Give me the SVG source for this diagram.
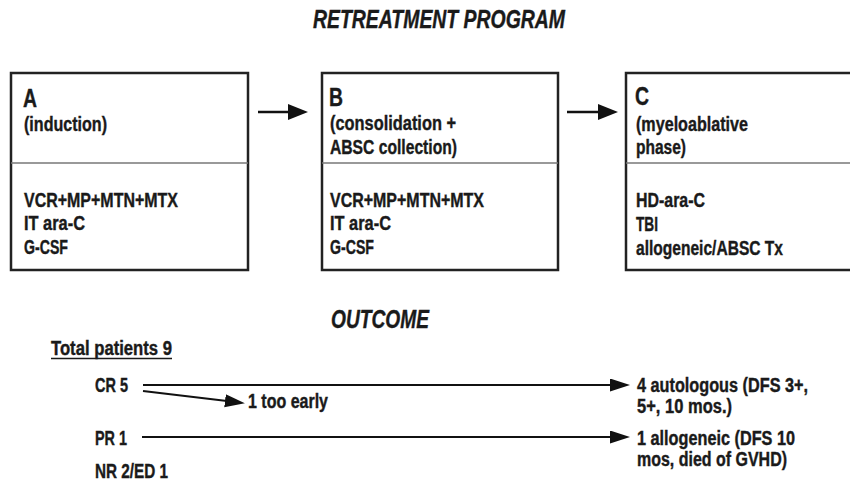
<svg xmlns="http://www.w3.org/2000/svg" width="850" height="482" viewBox="0 0 850 482">
<defs>
<style>
.t{font-family:"Liberation Sans","Arial",sans-serif;font-weight:bold;fill:#1a1a1a;stroke:#1a1a1a;stroke-width:0.4;font-size:20.5px}
.big{font-size:26.5px}
.o{font-size:19.5px}
.h{font-size:26px;font-style:italic}
.box{fill:none;stroke:#222;stroke-width:2.5}
.div{stroke:#777;stroke-width:1.5}
.conn{stroke:#111;stroke-width:2.5;fill:none}
.thin{stroke:#111;stroke-width:2;fill:none}
</style>
<marker id="ah" markerUnits="userSpaceOnUse" markerWidth="22" markerHeight="18" refX="2" refY="8" orient="auto">
<path d="M0,0 L20,8 L0,16 z" fill="#111"/>
</marker>
<marker id="ah2" markerUnits="userSpaceOnUse" markerWidth="22" markerHeight="16" refX="2" refY="6.5" orient="auto">
<path d="M0,0 L20,6.5 L0,13 z" fill="#111"/>
</marker>
</defs>
<rect width="850" height="482" fill="#fff"/>
<text class="t h" x="313" y="28" textLength="252" lengthAdjust="spacingAndGlyphs">RETREATMENT PROGRAM</text>
<g id="nodeA">
<rect class="box" x="11" y="73" width="237" height="197"/>
<line class="div" x1="11" y1="163" x2="248" y2="163"/>
<text class="t big" x="23" y="107" textLength="14" lengthAdjust="spacingAndGlyphs">A</text>
<text class="t" x="24" y="131" textLength="83" lengthAdjust="spacingAndGlyphs">(induction)</text>
<text class="t" x="24" y="207" textLength="154" lengthAdjust="spacingAndGlyphs">VCR+MP+MTN+MTX</text>
<text class="t" x="24" y="230" textLength="61" lengthAdjust="spacingAndGlyphs">IT ara-C</text>
<text class="t" x="24" y="254" textLength="44" lengthAdjust="spacingAndGlyphs">G-CSF</text>
</g>
<g id="nodeB">
<rect class="box" x="322" y="73" width="236" height="197"/>
<line class="div" x1="322" y1="163" x2="558" y2="163"/>
<text class="t big" x="329" y="106" textLength="14" lengthAdjust="spacingAndGlyphs">B</text>
<text class="t" x="330" y="130" textLength="126" lengthAdjust="spacingAndGlyphs">(consolidation +</text>
<text class="t" x="330" y="154" textLength="127" lengthAdjust="spacingAndGlyphs">ABSC collection)</text>
<text class="t" x="330" y="207" textLength="154" lengthAdjust="spacingAndGlyphs">VCR+MP+MTN+MTX</text>
<text class="t" x="330" y="230" textLength="61" lengthAdjust="spacingAndGlyphs">IT ara-C</text>
<text class="t" x="330" y="254" textLength="44" lengthAdjust="spacingAndGlyphs">G-CSF</text>
</g>
<g id="nodeC">
<rect class="box" x="626" y="73" width="232" height="197"/>
<line class="div" x1="626" y1="163" x2="858" y2="163"/>
<text class="t big" x="635" y="105" textLength="14" lengthAdjust="spacingAndGlyphs">C</text>
<text class="t" x="636" y="131" textLength="112" lengthAdjust="spacingAndGlyphs">(myeloablative</text>
<text class="t" x="636" y="154" textLength="50" lengthAdjust="spacingAndGlyphs">phase)</text>
<text class="t" x="636" y="207" textLength="69" lengthAdjust="spacingAndGlyphs">HD-ara-C</text>
<text class="t" x="636" y="231" textLength="22" lengthAdjust="spacingAndGlyphs">TBI</text>
<text class="t" x="636" y="255" textLength="147" lengthAdjust="spacingAndGlyphs">allogeneic/ABSC Tx</text>
</g>
<text class="t h" x="331" y="328" textLength="98" lengthAdjust="spacingAndGlyphs">OUTCOME</text>
<g id="outcome-labels">
<text class="t o" x="51" y="355" textLength="121" lengthAdjust="spacingAndGlyphs">Total patients 9</text>
<line x1="51" y1="358.5" x2="172" y2="358.5" stroke="#1a1a1a" stroke-width="1.5"/>
<text class="t o" x="95" y="392" textLength="33" lengthAdjust="spacingAndGlyphs">CR 5</text>
<text class="t o" x="95" y="445" textLength="32" lengthAdjust="spacingAndGlyphs">PR 1</text>
<text class="t o" x="95" y="478" textLength="73" lengthAdjust="spacingAndGlyphs">NR 2/ED 1</text>
<text class="t o" x="248" y="408" textLength="80" lengthAdjust="spacingAndGlyphs">1 too early</text>
<text class="t o" x="637" y="392" textLength="171" lengthAdjust="spacingAndGlyphs">4 autologous (DFS 3+,</text>
<text class="t o" x="637" y="413" textLength="95" lengthAdjust="spacingAndGlyphs">5+, 10 mos.)</text>
<text class="t o" x="637" y="445" textLength="158" lengthAdjust="spacingAndGlyphs">1 allogeneic (DFS 10</text>
<text class="t o" x="637" y="466" textLength="150" lengthAdjust="spacingAndGlyphs">mos, died of GVHD)</text>
</g>
<g id="connectors">
<line class="conn" x1="258" y1="112" x2="290" y2="112" marker-end="url(#ah)"/>
<line class="conn" x1="567" y1="112" x2="600" y2="112" marker-end="url(#ah)"/>
<line class="thin" x1="143" y1="385" x2="612" y2="385" marker-end="url(#ah2)"/>
<line class="thin" x1="143" y1="391" x2="227" y2="401" marker-end="url(#ah2)"/>
<line class="thin" x1="142" y1="437" x2="612" y2="437" marker-end="url(#ah2)"/>
</g>
</svg>
